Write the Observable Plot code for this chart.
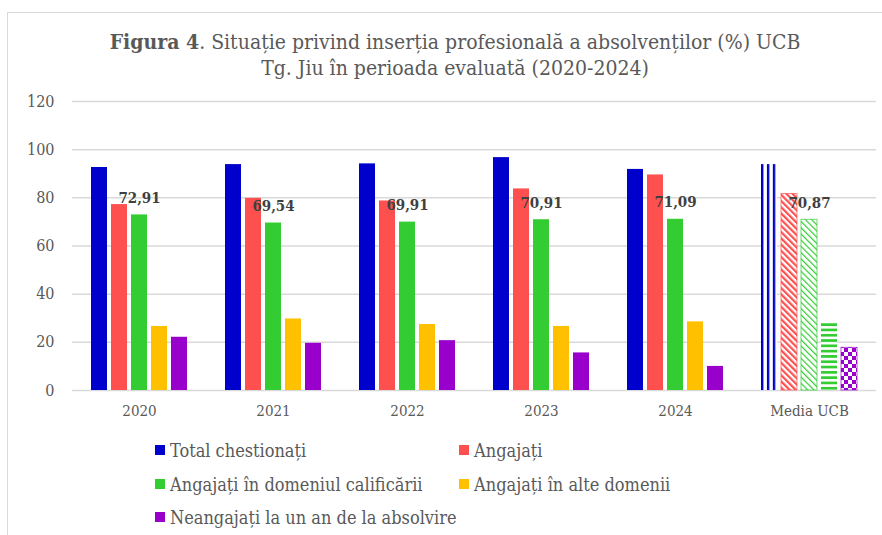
<!DOCTYPE html>
<html><head><meta charset="utf-8">
<script src="https://cdn.jsdelivr.net/npm/d3@7"></script>
<script src="https://cdn.jsdelivr.net/npm/@observablehq/plot@0.6"></script>
<style>
body{margin:0;background:#fff;width:882px;height:535px;overflow:hidden;position:relative;font-family:"DejaVu Serif Condensed","DejaVu Serif",serif;font-stretch:condensed;color:#595959}
#frame{position:absolute;left:7px;top:12px;width:900px;height:600px;border-left:1.5px solid #d9d9d9;border-top:1.5px solid #d9d9d9}
#title{position:absolute;left:0;top:29px;width:910px;text-align:center;font-size:21px;line-height:26px}
#chart{position:absolute;left:0;top:0}
.leg{position:absolute;font-size:18px;display:flex;align-items:center;white-space:nowrap;height:22px}
.sw{width:10px;height:10px;margin-right:5px;flex:none}
</style>
</head><body>
<div id="frame"></div>
<svg width="0" height="0" style="position:absolute">
<defs>
<pattern id="pat0" patternUnits="objectBoundingBox" width="0.37" height="1"><rect x="0" y="0" width="8" height="1000" fill="#fff"/><rect x="0" y="0" width="2.4" height="1000" fill="#0000CC"/></pattern>
<pattern id="pat1" patternUnits="userSpaceOnUse" width="4.4" height="4.4" patternTransform="rotate(-45)"><rect width="4.4" height="4.4" fill="#fff"/><rect width="2.2" height="4.4" fill="#FF5050"/></pattern>
<pattern id="pat2" patternUnits="userSpaceOnUse" width="4.4" height="4.4" patternTransform="rotate(-45)"><rect width="4.4" height="4.4" fill="#fff"/><rect width="1.2" height="4.4" fill="#33CC33"/></pattern>
<pattern id="pat3" patternUnits="userSpaceOnUse" width="10" height="5.3"><rect width="10" height="5.3" fill="#fff"/><rect width="10" height="2.7" fill="#33CC33"/></pattern>
<pattern id="pat4" patternUnits="userSpaceOnUse" width="8" height="8"><rect width="8" height="8" fill="#fff"/><rect width="4" height="4" fill="#9900CC"/><rect x="4" y="4" width="4" height="4" fill="#9900CC"/></pattern>
</defs>
</svg>
<div id="title"><b>Figura 4</b>. Situație privind inserția profesională a absolvenților (%) UCB<br>Tg. Jiu în perioada evaluată (2020-2024)</div>
<div id="chart"></div>
<div id="legend"></div>
<script>
const categories = ["2020", "2021", "2022", "2023", "2024", "Media UCB"];
const series = ["Total chestionați", "Angajați", "Angajați în domeniul calificării", "Angajați în alte domenii", "Neangajați la un an de la absolvire"];
const total = [92.6, 93.8, 94.1, 96.7, 91.8, 93.8];
const angajati = [77.2, 79.8, 78.7, 83.7, 89.5, 81.6];
const domeniu = [72.91, 69.54, 69.91, 70.91, 71.09, 70.87];
const alteDomenii = [26.6, 29.7, 27.4, 26.6, 28.5, 28.1];
const neangajati = [22.1, 19.6, 20.7, 15.6, 10.0, 17.7];
const valueLabels = ["72,91", "69,54", "69,91", "70,91", "71,09", "70,87"];
const yTicks = [0, 20, 40, 60, 80, 100, 120];

const colors = ["#0000CC", "#FF5050", "#33CC33", "#FFC000", "#9900CC"];
const patterns = ["url(#pat0)", "url(#pat1)", "url(#pat2)", "url(#pat3)", "url(#pat4)"];
const patStroke = ["none", "#FF5050", "#33CC33", "none", "#9900CC"];
const seriesValues = [total, angajati, domeniu, alteDomenii, neangajati];

const rows = categories.flatMap((c, i) => series.map((s, j) => ({
  cat: c, series: s, value: seriesValues[j][i],
  fill: c === "Media UCB" ? patterns[j] : colors[j],
  stroke: c === "Media UCB" ? patStroke[j] : "none"
})));
const labelRows = categories.map((c, i) => ({cat: c, series: series[2], value: domeniu[i], label: valueLabels[i]}));

const font = '"DejaVu Serif Condensed","DejaVu Serif",serif';
const plot = Plot.plot({
  width: 882, height: 430,
  marginTop: 101, marginBottom: 40, marginLeft: 70, marginRight: 5,
  style: {fontFamily: font, fontSize: "16px", color: "#595959", background: "transparent", overflow: "visible", fontStretch: "condensed"},
  fx: {domain: categories, padding: 0, label: null},
  x: {domain: series, paddingInner: 0.22, paddingOuter: 0.87, axis: null},
  y: {domain: [0, 120], label: null},
  color: {type: "identity"},
  marks: [
    Plot.ruleY(yTicks, {stroke: "#d9d9d9", strokeWidth: 1.5}),
    Plot.barY(rows, {fx: "cat", x: "series", y: "value", fill: "fill", stroke: "stroke", strokeWidth: 1, strokeOpacity: 0.7}),
    Plot.text(labelRows, {fx: "cat", x: "series", y: "value", text: "label", dy: -17, fontWeight: "bold", fontSize: 15, fill: "#404040"}),
    Plot.axisY(yTicks, {tickSize: 0, tickPadding: 18, fontSize: 16, label: null}),
    Plot.axisFx({anchor: "bottom", tickSize: 0, tickPadding: 15, fontSize: 15, label: null})
  ]
});
document.getElementById("chart").appendChild(plot);

const legend = document.getElementById("legend");
const legLeft = [155, 459];
const legMid = [450, 484, 517];
series.forEach((s, i) => {
  const d = document.createElement("div");
  d.className = "leg";
  d.style.left = legLeft[i % 2] + "px";
  d.style.top = (legMid[Math.floor(i / 2)] - 11) + "px";
  d.innerHTML = `<span class="sw" style="background:${colors[i]}"></span><span>${s}</span>`;
  legend.appendChild(d);
});
</script>
</body></html>
